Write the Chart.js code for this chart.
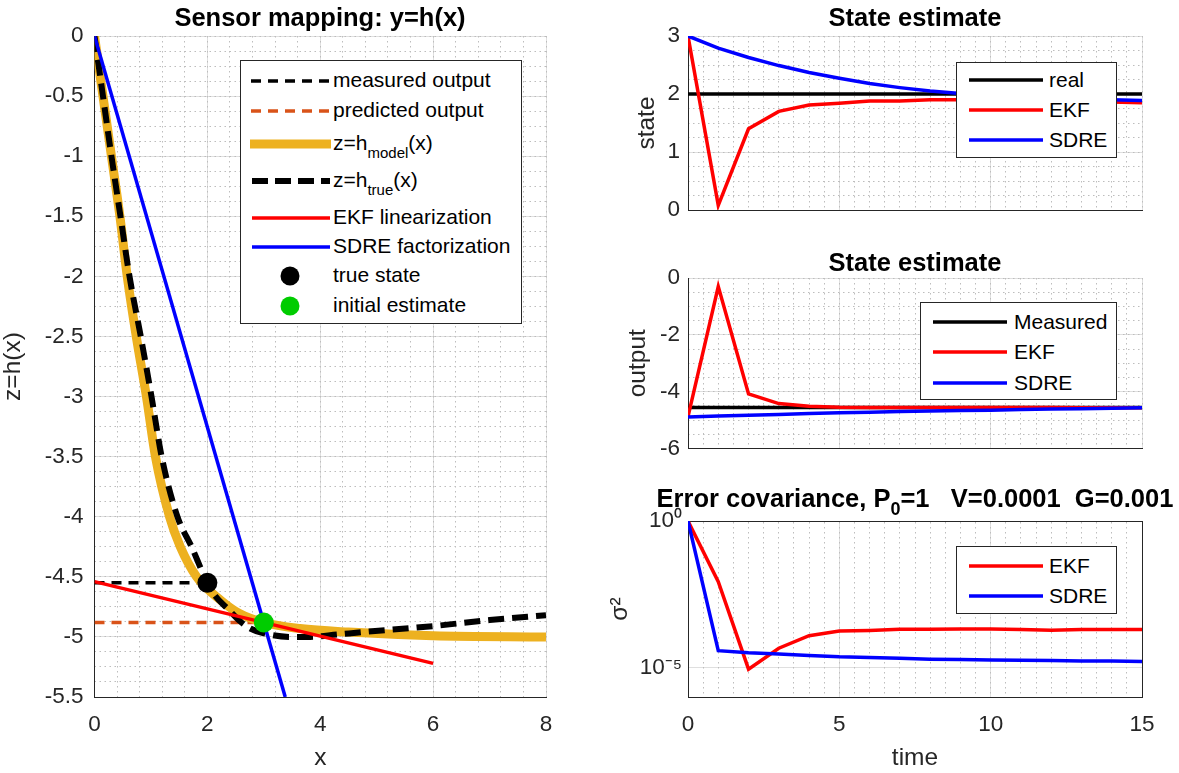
<!DOCTYPE html>
<html>
<head>
<meta charset="utf-8">
<script src="https://cdn.jsdelivr.net/npm/chart.js@4.4.1/dist/chart.umd.min.js"></script>
<style>
html,body{margin:0;padding:0;background:#fff;}
body{width:1179px;height:773px;position:relative;overflow:hidden;font-family:"Liberation Sans",Arial,Helvetica,sans-serif;color:#262626;}
canvas{position:absolute;}
.title{position:absolute;font-weight:bold;font-size:25.5px;line-height:28px;text-align:center;white-space:nowrap;color:#000;}
.title sub{font-size:18px;vertical-align:-0.45em;line-height:0;}
.legend{position:absolute;background:#fff;border:1px solid #262626;box-sizing:border-box;color:#000;font-size:21px;}
.legend svg{position:absolute;left:0;top:0;}
.lt{position:absolute;white-space:nowrap;line-height:24px;height:24px;}
.lt sub{font-size:15px;vertical-align:-0.5em;line-height:0;}
</style>
</head>
<body>
<canvas id="cLeft" width="580" height="773" style="left:0;top:0;"></canvas>
<canvas id="cState" width="579" height="240" style="left:600px;top:0;"></canvas>
<canvas id="cOut" width="579" height="230" style="left:600px;top:240px;"></canvas>
<canvas id="cCov" width="579" height="303" style="left:600px;top:470px;"></canvas>

<div class="title" style="left:94px;top:3px;width:452px;">Sensor mapping: y=h(x)</div>
<div class="title" style="left:688px;top:3px;width:454px;">State estimate</div>
<div class="title" style="left:688px;top:248px;width:454px;">State estimate</div>
<div class="title" style="left:600px;top:484px;width:630px;">Error covariance, P<sub>0</sub>=1&nbsp;&nbsp;&nbsp;V=0.0001&nbsp;&nbsp;G=0.001</div>

<div class="legend" style="left:240px;top:60px;width:282px;height:264px;">
  <svg width="282" height="264">
    <line x1="10" y1="20" x2="89" y2="20" stroke="#000" stroke-width="3.5" stroke-dasharray="10,7"/>
    <line x1="10" y1="50" x2="89" y2="50" stroke="#D95319" stroke-width="3.5" stroke-dasharray="10,7"/>
    <line x1="9" y1="83" x2="90" y2="83" stroke="#EDB120" stroke-width="9"/>
    <line x1="11" y1="120" x2="89" y2="120" stroke="#000" stroke-width="6" stroke-dasharray="16,7"/>
    <line x1="11" y1="157" x2="89" y2="157" stroke="#ff0000" stroke-width="3.5"/>
    <line x1="11" y1="186" x2="89" y2="186" stroke="#0000ff" stroke-width="3.5"/>
    <circle cx="49" cy="215" r="9.5" fill="#000"/>
    <circle cx="49" cy="245" r="9.5" fill="#00cc00"/>
  </svg>
  <div class="lt" style="left:92px;top:7px;">measured output</div>
  <div class="lt" style="left:92px;top:37px;">predicted output</div>
  <div class="lt" style="left:92px;top:70px;">z=h<sub>model</sub>(x)</div>
  <div class="lt" style="left:92px;top:107px;">z=h<sub>true</sub>(x)</div>
  <div class="lt" style="left:92px;top:144px;">EKF linearization</div>
  <div class="lt" style="left:92px;top:173px;">SDRE factorization</div>
  <div class="lt" style="left:92px;top:202px;">true state</div>
  <div class="lt" style="left:92px;top:232px;">initial estimate</div>
</div>

<div class="legend" style="left:956px;top:62px;width:161px;height:96px;">
  <svg width="161" height="96">
    <line x1="12" y1="17" x2="86" y2="17" stroke="#000" stroke-width="3.5"/>
    <line x1="12" y1="47" x2="86" y2="47" stroke="#ff0000" stroke-width="3.5"/>
    <line x1="12" y1="77" x2="86" y2="77" stroke="#0000ff" stroke-width="3.5"/>
  </svg>
  <div class="lt" style="left:92px;top:5px;">real</div>
  <div class="lt" style="left:92px;top:35px;">EKF</div>
  <div class="lt" style="left:92px;top:65px;">SDRE</div>
</div>

<div class="legend" style="left:920px;top:302px;width:197px;height:98px;">
  <svg width="197" height="98">
    <line x1="12" y1="19" x2="86" y2="19" stroke="#000" stroke-width="3.5"/>
    <line x1="12" y1="49" x2="86" y2="49" stroke="#ff0000" stroke-width="3.5"/>
    <line x1="12" y1="80" x2="86" y2="80" stroke="#0000ff" stroke-width="3.5"/>
  </svg>
  <div class="lt" style="left:93px;top:7px;">Measured</div>
  <div class="lt" style="left:93px;top:37px;">EKF</div>
  <div class="lt" style="left:93px;top:68px;">SDRE</div>
</div>

<div class="legend" style="left:956px;top:546px;width:161px;height:68px;">
  <svg width="161" height="68">
    <line x1="12" y1="19" x2="86" y2="19" stroke="#ff0000" stroke-width="3.5"/>
    <line x1="12" y1="49" x2="86" y2="49" stroke="#0000ff" stroke-width="3.5"/>
  </svg>
  <div class="lt" style="left:92px;top:7px;">EKF</div>
  <div class="lt" style="left:92px;top:37px;">SDRE</div>
</div>

<script>
// ---------------- Left: sensor mapping ----------------
const xTicksLeft = [0, 2, 4, 6, 8];
const zTicksLeft = [0, -0.5, -1, -1.5, -2, -2.5, -3, -3.5, -4, -4.5, -5, -5.5];

const modelX = [0, 0.15, 0.30, 0.45, 0.58, 0.74, 0.92, 1.08, 1.33, 1.52, 1.81, 2.25, 2.55, 3.00, 3.64, 4.50, 6.00, 8.00];
const modelZ = [0, -0.5, -1.0, -1.5, -2.0, -2.5, -3.0, -3.5, -4.0, -4.25, -4.5, -4.7, -4.8, -4.88, -4.93, -4.96, -4.99, -5.0];

const trueX = [0, 0.15, 0.30, 0.46, 0.62, 0.82, 1.01, 1.19, 1.47, 1.72, 2.00, 2.14, 2.37, 2.58, 2.76, 3.00, 3.47, 3.82, 4.30, 4.76, 6.00, 7.00, 8.00];
const trueZ = [0, -0.5, -1.0, -1.5, -2.0, -2.5, -3.0, -3.5, -4.0, -4.25, -4.55, -4.66, -4.77, -4.87, -4.93, -4.97, -5.0, -5.0, -4.98, -4.96, -4.91, -4.86, -4.82];

const measuredX = [0, 2];
const measuredZ = [-4.55, -4.55];
const predictedX = [0, 3];
const predictedZ = [-4.88, -4.88];
const ekfLinX = [0, 6];
const ekfLinZ = [-4.54, -5.22];
const sdreFacX = [0, 3.38];
const sdreFacZ = [0, -5.5];
const trueStateX = [2];
const trueStateZ = [-4.55];
const initEstX = [3];
const initEstZ = [-4.88];

// ---------------- Right: time series ----------------
const timeSteps = [0, 1, 2, 3, 4, 5, 6, 7, 8, 9, 10, 11, 12, 13, 14, 15];
const timeTicks = [0, 5, 10, 15];

const stateReal = [2, 2, 2, 2, 2, 2, 2, 2, 2, 2, 2, 2, 2, 2, 2, 2];
const stateEKF  = [3, 0.08, 1.40, 1.70, 1.81, 1.84, 1.88, 1.88, 1.90, 1.90, 1.90, 1.89, 1.88, 1.87, 1.86, 1.85];
const stateSDRE = [3, 2.79, 2.63, 2.49, 2.37, 2.27, 2.18, 2.11, 2.05, 2.01, 1.98, 1.96, 1.94, 1.92, 1.90, 1.89];
const stateTicks = [0, 1, 2, 3];

const outMeasured = [-4.56, -4.56, -4.56, -4.56, -4.56, -4.56, -4.56, -4.56, -4.56, -4.56, -4.56, -4.56, -4.56, -4.56, -4.56, -4.56];
const outEKF  = [-4.88, -0.30, -4.08, -4.42, -4.51, -4.55, -4.56, -4.56, -4.56, -4.56, -4.56, -4.56, -4.56, -4.57, -4.57, -4.57];
const outSDRE = [-4.89, -4.86, -4.83, -4.80, -4.77, -4.74, -4.72, -4.70, -4.68, -4.66, -4.65, -4.63, -4.61, -4.60, -4.58, -4.57];
const outTicks = [-6, -4, -2, 0];

const covEKF  = [1, 8.5e-3, 8.9e-6, 4.6e-5, 1.23e-4, 1.78e-4, 1.86e-4, 2.04e-4, 2.04e-4, 2.09e-4, 2.09e-4, 2.0e-4, 1.9e-4, 2.0e-4, 2.0e-4, 2.0e-4];
const covSDRE = [1, 3.8e-5, 3.2e-5, 2.9e-5, 2.6e-5, 2.34e-5, 2.24e-5, 2.1e-5, 1.95e-5, 1.9e-5, 1.82e-5, 1.78e-5, 1.74e-5, 1.7e-5, 1.7e-5, 1.62e-5];
const covTicks = [1e-5, 1];
const covTickLabels = ['10\u207B\u2075', '10\u2070'];

// ---------------- helpers ----------------
const FONT = '"Liberation Sans", Arial, Helvetica, sans-serif';
const AX = '#262626';
const GRID = '#dfdfdf';
const MINOR = '#bdbdbd';
const pts = (xs, ys) => xs.map((x, i) => ({x: x, y: ys[i]}));
const fixedTicks = arr => (s => { s.ticks = arr.map(v => ({value: v})); });

function lineDs(data, color, width, extra) {
  return Object.assign({data: data, borderColor: color, backgroundColor: color, borderWidth: width,
    pointRadius: 0, tension: 0, fill: false, clip: 0, showLine: true}, extra || {});
}
function majorAxis(pos, min, max, tickArr, opts) {
  const o = Object.assign({}, opts || {});
  return {
    type: o.type || 'linear', position: pos, min: min, max: max,
    afterBuildTicks: fixedTicks(tickArr),
    afterFit: o.fit,
    ticks: {display: o.showTicks !== false, autoSkip: false, maxRotation: 0, color: AX,
      font: {family: FONT, size: 22.5}, padding: o.pad || 8,
      callback: o.cb || (v => String(v))},
    grid: {color: GRID, lineWidth: 1, drawTicks: false},
    border: {display: true, color: AX, width: 1},
    title: o.title ? {display: true, text: o.title, color: AX, font: {family: FONT, size: 24.5},
      padding: o.titlePad || {top: 0, bottom: 0}} : {display: false}
  };
}
function minorAxis(pos, min, max, step, fit, showBorder, showGrid) {
  return {
    type: 'linear', position: pos, min: min, max: max, afterFit: fit,
    ticks: {display: false, stepSize: step, maxTicksLimit: 1000, autoSkip: false},
    grid: {display: showGrid !== false, color: MINOR, lineWidth: 1, drawTicks: false},
    border: {display: !!showBorder, color: AX, width: 1, dash: [1.5, 3.5]}
  };
}
const baseOpts = {
  responsive: false, animation: false, devicePixelRatio: 1, events: [],
  plugins: {legend: {display: false}, tooltip: {enabled: false}, title: {display: false}}
};

// ---------------- Left chart ----------------
new Chart(document.getElementById('cLeft'), {
  type: 'line',
  data: {datasets: [
    lineDs(pts(initEstX, initEstZ), '#00cc00', 0, {showLine: false, pointRadius: 10, pointBackgroundColor: '#00cc00', pointBorderWidth: 0, order: 0}),
    lineDs(pts(trueStateX, trueStateZ), '#000000', 0, {showLine: false, pointRadius: 10, pointBackgroundColor: '#000000', pointBorderWidth: 0, order: 1}),
    lineDs(pts(sdreFacX, sdreFacZ), '#0000ff', 3.5, {order: 2}),
    lineDs(pts(ekfLinX, ekfLinZ), '#ff0000', 3.5, {order: 3}),
    lineDs(pts(trueX, trueZ), '#000000', 6, {borderDash: [16, 8], cubicInterpolationMode: 'monotone', order: 4}),
    lineDs(pts(modelX, modelZ), '#EDB120', 9, {cubicInterpolationMode: 'monotone', order: 5}),
    lineDs(pts(predictedX, predictedZ), '#D95319', 3.5, {borderDash: [10, 7], order: 6}),
    lineDs(pts(measuredX, measuredZ), '#000000', 3.5, {borderDash: [10, 7], order: 7})
  ]},
  options: Object.assign({}, baseOpts, {
    layout: {padding: {left: 0, top: 36, right: 34, bottom: 0}},
    scales: {
      x: majorAxis('bottom', 0, 8, xTicksLeft, {fit: s => { s.height = 76; }, pad: 14, title: 'x'}),
      y: majorAxis('left', -5.5, 0, zTicksLeft, {fit: s => { s.width = 94.5; }, pad: 11, title: 'z=h(x)', titlePad: {top: -1, bottom: 0}}),
      xm: minorAxis('top', 0, 8, 0.4, s => { s.height = 0; }),
      ym: minorAxis('right', -5.5, 0, 0.125, s => { s.width = 0; })
    }
  })
});

// ---------------- Right charts ----------------
function rightChart(id, padTop, padBottom, datasets, yAxis, yMinorStep, yMin, yMax, showX, box) {
  const scales = {
    x: majorAxis('bottom', 0, 15, timeTicks, {
      fit: s => { s.height = showX ? 76 : 0; }, showTicks: showX, pad: 14, title: showX ? 'time' : null}),
    y: yAxis,
    xm: minorAxis('top', 0, 15, 0.5, s => { s.height = 0; }, box)
  };
  if (yMinorStep) {
    scales.ym = minorAxis('right', yMin, yMax, yMinorStep, s => { s.width = 0; }, box);
  } else {
    scales.ym = minorAxis('right', 0, 1, 1, s => { s.width = 0; }, box, false);
  }
  new Chart(document.getElementById(id), {
    type: 'line',
    data: {datasets: datasets},
    options: Object.assign({}, baseOpts, {
      layout: {padding: {left: 0, top: padTop, right: 37, bottom: padBottom}},
      scales: scales
    })
  });
}

rightChart('cState', 36, 30, [
    lineDs(pts(timeSteps, stateSDRE), '#0000ff', 3.5, {order: 0}),
    lineDs(pts(timeSteps, stateEKF), '#ff0000', 3.5, {order: 1}),
    lineDs(pts(timeSteps, stateReal), '#000000', 3.5, {order: 2})
  ],
  majorAxis('left', 0, 3, stateTicks, {fit: s => { s.width = 88; }, pad: 8, title: 'state', titlePad: {top: 33, bottom: 0}}),
  0.25, 0, 3, false, false);

rightChart('cOut', 38, 17, [
    lineDs(pts(timeSteps, outSDRE), '#0000ff', 3.5, {order: 0}),
    lineDs(pts(timeSteps, outEKF), '#ff0000', 3.5, {order: 1}),
    lineDs(pts(timeSteps, outMeasured), '#000000', 3.5, {order: 2})
  ],
  majorAxis('left', -6, 0, outTicks, {fit: s => { s.width = 88; }, pad: 8, title: 'output', titlePad: {top: 24, bottom: 0}}),
  0.5, -6, 0, false, false);

rightChart('cCov', 51, 0, [
    lineDs(pts(timeSteps, covSDRE), '#0000ff', 3.5, {order: 0}),
    lineDs(pts(timeSteps, covEKF), '#ff0000', 3.5, {order: 1})
  ],
  majorAxis('left', 1e-6, 1, covTicks, {type: 'logarithmic', fit: s => { s.width = 88; }, pad: 6,
    cb: v => { const i = covTicks.indexOf(v); return i >= 0 ? covTickLabels[i] : ''; },
    title: '\u03C3\u00B2', titlePad: {top: 6, bottom: 0}}),
  0, 0, 0, true, true);
</script>
</body>
</html>
